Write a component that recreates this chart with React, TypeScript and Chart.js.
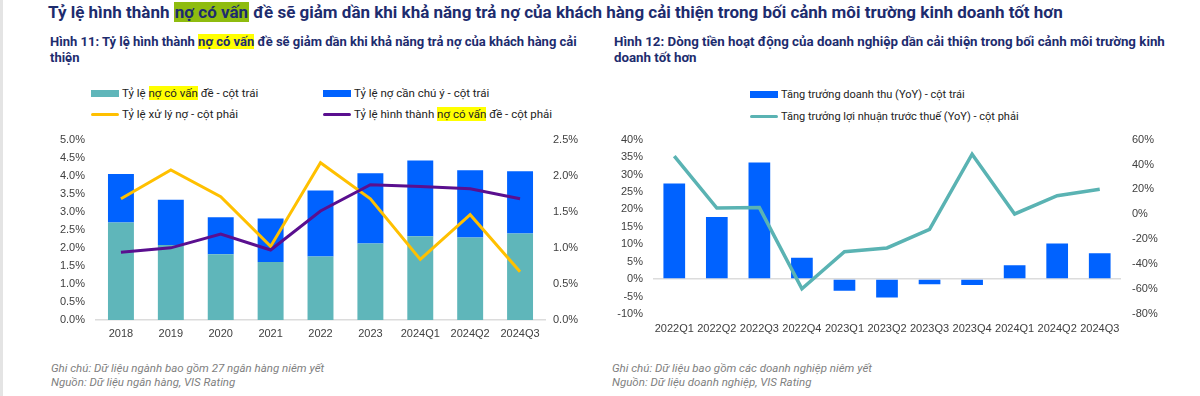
import React, { useEffect, useRef } from "react";
import { Chart, registerables } from "chart.js";
Chart.register(...registerables);

// ---------- Data: Hình 11 ----------
const leftCategories = ["2018", "2019", "2020", "2021", "2022", "2023", "2024Q1", "2024Q2", "2024Q3"];
const nplRatio = [2.7, 2.08, 1.82, 1.61, 1.76, 2.12, 2.32, 2.29, 2.4];
const specialMentionRatio = [1.35, 1.25, 1.03, 1.2, 1.83, 1.95, 2.1, 1.86, 1.72];
const writeOffRate = [1.68, 2.08, 1.71, 1.02, 2.18, 1.68, 0.84, 1.46, 0.67];
const nplFormationRate = [0.94, 1.0, 1.19, 0.97, 1.51, 1.875, 1.85, 1.82, 1.68];

// ---------- Data: Hình 12 ----------
const rightCategories = ["2022Q1", "2022Q2", "2022Q3", "2022Q4", "2023Q1", "2023Q2", "2023Q3", "2023Q4", "2024Q1", "2024Q2", "2024Q3"];
const revenueGrowth = [27.4, 17.8, 33.4, 6.1, -3.3, -5.3, -1.5, -1.7, 4.0, 10.2, 7.4];
const pretaxProfitGrowth = [46.7, 5.1, 5.4, -59.8, -30, -27, -12, 48.3, 0.3, 15, 20.1];

const COL_TEAL = "#5fb6ba";
const COL_BLUE = "#0062ff";
const COL_YELLOW = "#ffc000";
const COL_PURPLE = "#5a0f8f";
const COL_LINE_TEAL = "#5ab3b3";
const TICK_COLOR = "#404040";
const NAVY = "#1d2c6e";

function LeftChart() {
  const ref = useRef<HTMLCanvasElement | null>(null);
  useEffect(() => {
    if (!ref.current) return;
    const chart = new Chart(ref.current, {
      data: {
        labels: leftCategories,
        datasets: [
          { type: "line", label: "Tỷ lệ hình thành nợ có vấn đề", data: nplFormationRate, yAxisID: "y1", borderColor: COL_PURPLE, borderWidth: 3, pointRadius: 0, tension: 0, order: 0 },
          { type: "line", label: "Tỷ lệ xử lý nợ", data: writeOffRate, yAxisID: "y1", borderColor: COL_YELLOW, borderWidth: 3, pointRadius: 0, tension: 0, order: 1 },
          { type: "bar", label: "Tỷ lệ nợ có vấn đề", data: nplRatio, yAxisID: "y", backgroundColor: COL_TEAL, stack: "s", barPercentage: 0.52, categoryPercentage: 1, order: 2 },
          { type: "bar", label: "Tỷ lệ nợ cần chú ý", data: specialMentionRatio, yAxisID: "y", backgroundColor: COL_BLUE, stack: "s", barPercentage: 0.52, categoryPercentage: 1, order: 2 },
        ],
      } as any,
      options: {
        animation: false,
        responsive: false,
        maintainAspectRatio: false,
        layout: { padding: 0 },
        plugins: { legend: { display: false }, tooltip: { enabled: false } },
        scales: {
          x: {
            stacked: true,
            grid: { display: false, drawTicks: false },
            border: { display: true, color: "#dcdcdc", width: 1.5 },
            ticks: { color: TICK_COLOR, font: { size: 11 }, padding: 7, maxRotation: 0, autoSkip: false },
            afterFit: (s: any) => { s.height = 30; },
          },
          y: {
            position: "left",
            stacked: true,
            min: 0,
            max: 5,
            grid: { display: false, drawTicks: false },
            border: { display: false },
            ticks: { stepSize: 0.5, color: TICK_COLOR, font: { size: 11 }, padding: 11, callback: (v: any) => Number(v).toFixed(1) + "%" },
            afterFit: (s: any) => { s.width = 56; },
          },
          y1: {
            position: "right",
            min: 0,
            max: 2.5,
            grid: { display: false, drawTicks: false },
            border: { display: false },
            ticks: { stepSize: 0.5, color: TICK_COLOR, font: { size: 11 }, padding: 8, callback: (v: any) => Number(v).toFixed(1) + "%" },
            afterFit: (s: any) => { s.width = 55; },
          },
        },
      } as any,
    });
    return () => chart.destroy();
  }, []);
  return <canvas ref={ref} width={560} height={228} style={{ position: "absolute", left: 40, top: 122, width: 560, height: 228 }} />;
}

function RightChart() {
  const ref = useRef<HTMLCanvasElement | null>(null);
  useEffect(() => {
    if (!ref.current) return;
    const chart = new Chart(ref.current, {
      data: {
        labels: rightCategories,
        datasets: [
          { type: "line", label: "Tăng trưởng lợi nhuận trước thuế (YoY)", data: pretaxProfitGrowth, yAxisID: "y1", borderColor: COL_LINE_TEAL, borderWidth: 3.5, pointRadius: 0, tension: 0, order: 0 },
          { type: "bar", label: "Tăng trưởng doanh thu (YoY)", data: revenueGrowth, yAxisID: "y", backgroundColor: COL_BLUE, barPercentage: 0.51, categoryPercentage: 1, order: 1 },
        ],
      } as any,
      options: {
        animation: false,
        responsive: false,
        maintainAspectRatio: false,
        layout: { padding: 0 },
        plugins: { legend: { display: false }, tooltip: { enabled: false } },
        scales: {
          x: {
            grid: { display: false, drawTicks: false },
            border: { display: false },
            ticks: { color: TICK_COLOR, font: { size: 11 }, padding: 8, maxRotation: 0, autoSkip: false },
            afterFit: (s: any) => { s.height = 30; },
          },
          y: {
            position: "left",
            min: -10,
            max: 40,
            grid: {
              display: true,
              drawTicks: false,
              lineWidth: 1.5,
              color: (ctx: any) => (ctx.tick && ctx.tick.value === 0 ? "#dcdcdc" : "rgba(0,0,0,0)"),
            },
            border: { display: false },
            ticks: { stepSize: 5, color: TICK_COLOR, font: { size: 11 }, padding: 10, callback: (v: any) => v + "%" },
            afterFit: (s: any) => { s.width = 53; },
          },
          y1: {
            position: "right",
            min: -80,
            max: 60,
            grid: { display: false, drawTicks: false },
            border: { display: false },
            ticks: { stepSize: 20, color: TICK_COLOR, font: { size: 11 }, padding: 11, callback: (v: any) => v + "%" },
            afterFit: (s: any) => { s.width = 79; },
          },
        },
      } as any,
    });
    return () => chart.destroy();
  }, []);
  return <canvas ref={ref} width={600} height={222} style={{ position: "absolute", left: 600, top: 122, width: 600, height: 222 }} />;
}

const hlYellow: React.CSSProperties = { background: "#ffff00" };

function LegendItem(props: { x: number; y: number; color: string; thick: number; size: number; children: React.ReactNode }) {
  const { x, y, color, thick, size, children } = props;
  return (
    <div style={{ position: "absolute", left: x, top: y - 8, height: 16, display: "flex", alignItems: "center", whiteSpace: "nowrap", fontSize: size, color: "#222" }}>
      <span style={{ display: "inline-block", width: 28, height: thick, background: color, borderRadius: thick < 5 ? 2 : 0, marginRight: 3 }} />
      <span>{children}</span>
    </div>
  );
}

export default function App() {
  return (
    <div style={{ position: "fixed", left: 0, top: 0, width: 1200, height: 396, background: "#ffffff", overflow: "hidden", fontFamily: "Roboto, 'Noto Sans', sans-serif" }}>
      <div style={{ position: "absolute", left: 0, top: 0, width: 3, height: 396, background: "#e4e4e4" }} />
      {/* Main title */}
      <div style={{ position: "absolute", left: 48, top: 2, lineHeight: "21px", fontSize: 17, fontWeight: 700, color: NAVY, whiteSpace: "nowrap" }}>
        Tỷ lệ hình thành <span style={{ background: "#8fbc0f", padding: "0 1px" }}>nợ có vấn</span> đề sẽ giảm dần khi khả năng trả nợ của khách hàng cải thiện trong bối cảnh môi trường kinh doanh tốt hơn
      </div>
      {/* Subtitles */}
      <div style={{ position: "absolute", left: 50, top: 34, lineHeight: "16px", fontSize: 13, fontWeight: 700, color: NAVY, whiteSpace: "nowrap" }}>
        Hình 11: Tỷ lệ hình thành <span style={hlYellow}>nợ có vấn</span> đề sẽ giảm dần khi khả năng trả nợ của khách hàng cải
        <br />
        thiện
      </div>
      <div style={{ position: "absolute", left: 614, top: 34, lineHeight: "16px", fontSize: 13.3, fontWeight: 700, color: NAVY, whiteSpace: "nowrap" }}>
        Hình 12: Dòng tiền hoạt động của doanh nghiệp dần cải thiện trong bối cảnh môi trường kinh
        <br />
        doanh tốt hơn
      </div>
      {/* Left legend */}
      <LegendItem x={91} y={93} color={COL_TEAL} thick={7} size={11.5}>
        Tỷ lệ <span style={hlYellow}>nợ có vấn</span> đề - cột trái
      </LegendItem>
      <LegendItem x={323} y={93} color={COL_BLUE} thick={7} size={11.5}>
        Tỷ lệ nợ cần chú ý - cột trái
      </LegendItem>
      <LegendItem x={91} y={114} color={COL_YELLOW} thick={3} size={11.5}>
        Tỷ lệ xử lý nợ - cột phải
      </LegendItem>
      <LegendItem x={323} y={114} color={COL_PURPLE} thick={3} size={11.5}>
        Tỷ lệ hình thành <span style={hlYellow}>nợ có vấn</span> đề - cột phải
      </LegendItem>
      {/* Right legend */}
      <LegendItem x={750} y={94} color={COL_BLUE} thick={7} size={11}>
        Tăng trưởng doanh thu (YoY) - cột trái
      </LegendItem>
      <LegendItem x={750} y={116} color={COL_LINE_TEAL} thick={3} size={11}>
        Tăng trưởng lợi nhuận trước thuế (YoY) - cột phải
      </LegendItem>
      <LeftChart />
      <RightChart />
      {/* Footnotes */}
      <div style={{ position: "absolute", left: 51, top: 361, lineHeight: "14px", fontSize: 11.5, fontStyle: "italic", color: "#7f7f7f", whiteSpace: "nowrap" }}>
        Ghi chú: Dữ liệu ngành bao gồm 27 ngân hàng niêm yết
        <br />
        Nguồn: Dữ liệu ngân hàng, VIS Rating
      </div>
      <div style={{ position: "absolute", left: 612, top: 361, lineHeight: "14px", fontSize: 11.5, fontStyle: "italic", color: "#7f7f7f", whiteSpace: "nowrap" }}>
        Ghi chú: Dữ liệu bao gồm các doanh nghiệp niêm yết
        <br />
        Nguồn: Dữ liệu doanh nghiệp, VIS Rating
      </div>
    </div>
  );
}
